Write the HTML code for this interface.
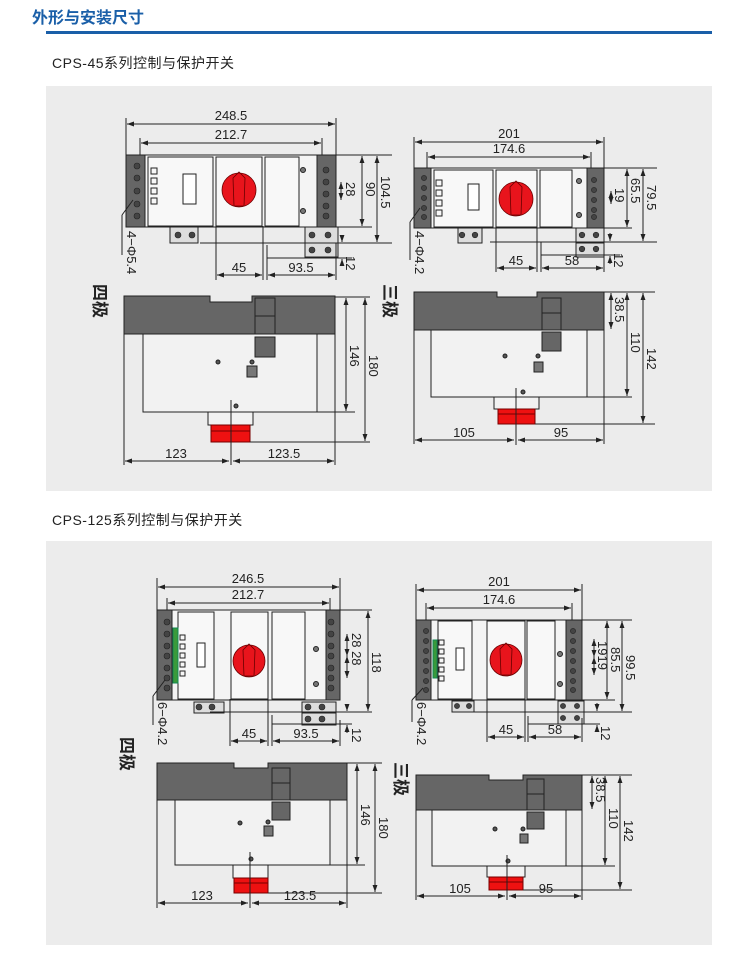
<!DOCTYPE html>
<html><head><meta charset="utf-8"><style>
html,body{margin:0;padding:0;background:#fff;width:750px;height:963px;overflow:hidden}
svg{display:block}
text{font-family:"Liberation Sans","Noto Sans CJK SC",sans-serif;fill:#222}
</style></head><body>
<svg width="750" height="963" viewBox="0 0 750 963" xmlns="http://www.w3.org/2000/svg">
<defs>
<marker id="a" viewBox="0 0 10 10" refX="10" refY="5" markerWidth="7" markerHeight="7" orient="auto-start-reverse"><path d="M0,1.5 L10,5 L0,8.5z" fill="#222"/></marker>
</defs>
<text x="32" y="23" font-size="16" font-weight="bold" style="fill:#1a5fa8">外形与安装尺寸</text>
<rect x="46" y="31" width="666" height="3" fill="#1a5fa8"/>
<text x="52" y="68" font-size="14" letter-spacing="0.5">CPS-45系列控制与保护开关</text>
<rect x="46" y="86" width="666" height="405" fill="#ececec"/>
<text x="52" y="525" font-size="14" letter-spacing="0.5">CPS-125系列控制与保护开关</text>
<rect x="46" y="541" width="666" height="404" fill="#ececec"/>

<g stroke="#222" stroke-width="1" fill="none">
<!-- ===== Panel1 left front ===== -->
<line x1="126" y1="118" x2="126" y2="155"/><line x1="336" y1="118" x2="336" y2="155"/>
<line x1="127" y1="124" x2="335" y2="124" marker-start="url(#a)" marker-end="url(#a)"/>
<line x1="140" y1="138" x2="140" y2="155"/><line x1="322" y1="138" x2="322" y2="155"/>
<line x1="141" y1="143" x2="321" y2="143" marker-start="url(#a)" marker-end="url(#a)"/>
<rect x="126" y="155" width="210" height="72" fill="#f4f4f4"/>
<rect x="126" y="155" width="19" height="72" fill="#666"/>
<rect x="317" y="155" width="19" height="72" fill="#666"/>
<rect x="148" y="157" width="65" height="69" fill="#f8f8f8"/>
<rect x="216" y="157" width="46" height="69" fill="#f8f8f8"/>
<rect x="265" y="157" width="34" height="69" fill="#f8f8f8"/>
<rect x="183" y="174" width="13" height="30" fill="#fff"/>
<rect x="151" y="168" width="6" height="6"/><rect x="151" y="178" width="6" height="6"/><rect x="151" y="188" width="6" height="6"/><rect x="151" y="198" width="6" height="6"/>
<circle cx="303" cy="170" r="2.5" fill="#777"/><circle cx="303" cy="211" r="2.5" fill="#777"/>
<rect x="170" y="227" width="28" height="16" fill="#ddd"/>
<rect x="305" y="227" width="33" height="16" fill="#ddd"/><rect x="305" y="243" width="33" height="14" fill="#ddd"/>
<line x1="216" y1="226" x2="216" y2="280"/><line x1="263" y1="226" x2="263" y2="280"/><line x1="267" y1="245" x2="267" y2="280"/>
<line x1="217" y1="275" x2="262" y2="275" marker-start="url(#a)" marker-end="url(#a)"/>
<line x1="268" y1="275" x2="335" y2="275" marker-start="url(#a)" marker-end="url(#a)"/>
<line x1="336" y1="243" x2="336" y2="280"/>
<line x1="336" y1="155" x2="392" y2="155"/><line x1="330" y1="227" x2="372" y2="227"/><line x1="200" y1="243" x2="392" y2="243"/><line x1="267" y1="258" x2="352" y2="258"/>
<line x1="341" y1="182" x2="341" y2="200" marker-start="url(#a)" marker-end="url(#a)"/>
<line x1="362" y1="156" x2="362" y2="226" marker-start="url(#a)" marker-end="url(#a)"/>
<line x1="377" y1="156" x2="377" y2="242" marker-start="url(#a)" marker-end="url(#a)"/>
<line x1="342" y1="235" x2="342" y2="242" marker-end="url(#a)"/><line x1="342" y1="266" x2="342" y2="259" marker-end="url(#a)"/>
<line x1="133" y1="200" x2="122" y2="215"/><line x1="122" y1="215" x2="122" y2="255"/>

<!-- Panel1 left side -->
<path d="M124,296 H210 V302 H252 V296 H335 V334 H124Z" fill="#666"/>
<line x1="124" y1="334" x2="124" y2="465"/><line x1="335" y1="334" x2="335" y2="465"/>
<rect x="143" y="334" width="174" height="78" fill="#f2f2f2"/>
<rect x="255" y="298" width="20" height="36" fill="#666"/><line x1="255" y1="316" x2="275" y2="316"/>
<rect x="255" y="337" width="20" height="20" fill="#666"/>
<rect x="247" y="366" width="10" height="11" fill="#777"/>
<circle cx="218" cy="362" r="2" fill="#555"/><circle cx="252" cy="362" r="2" fill="#555"/><circle cx="236" cy="406" r="2" fill="#555"/>
<rect x="208" y="412" width="45" height="13" fill="#f2f2f2"/>
<rect x="211" y="425" width="39" height="17" fill="#e11" stroke="#700"/><line x1="211" y1="431" x2="250" y2="431" stroke="#700"/>
<line x1="231" y1="400" x2="231" y2="465"/>
<line x1="335" y1="297" x2="370" y2="297"/><line x1="317" y1="412" x2="355" y2="412"/><line x1="250" y1="442" x2="370" y2="442"/>
<line x1="346" y1="298" x2="346" y2="411" marker-start="url(#a)" marker-end="url(#a)"/>
<line x1="365" y1="298" x2="365" y2="441" marker-start="url(#a)" marker-end="url(#a)"/>
<line x1="125" y1="461" x2="229" y2="461" marker-start="url(#a)" marker-end="url(#a)"/>
<line x1="233" y1="461" x2="334" y2="461" marker-start="url(#a)" marker-end="url(#a)"/>

<!-- ===== Panel1 right front ===== -->
<line x1="414" y1="137" x2="414" y2="168"/><line x1="604" y1="137" x2="604" y2="168"/>
<line x1="415" y1="142" x2="603" y2="142" marker-start="url(#a)" marker-end="url(#a)"/>
<line x1="427" y1="152" x2="427" y2="168"/><line x1="591" y1="152" x2="591" y2="168"/>
<line x1="428" y1="157" x2="590" y2="157" marker-start="url(#a)" marker-end="url(#a)"/>
<rect x="414" y="168" width="190" height="60" fill="#f4f4f4"/>
<rect x="414" y="168" width="17" height="60" fill="#666"/>
<rect x="587" y="168" width="17" height="60" fill="#666"/>
<rect x="434" y="170" width="59" height="57" fill="#f8f8f8"/>
<rect x="496" y="170" width="41" height="57" fill="#f8f8f8"/>
<rect x="540" y="170" width="32" height="57" fill="#f8f8f8"/>
<rect x="468" y="184" width="11" height="26" fill="#fff"/>
<rect x="436" y="180" width="6" height="6"/><rect x="436" y="190" width="6" height="6"/><rect x="436" y="200" width="6" height="6"/><rect x="436" y="210" width="6" height="6"/>
<circle cx="579" cy="181" r="2.5" fill="#777"/><circle cx="579" cy="215" r="2.5" fill="#777"/>
<rect x="458" y="228" width="24" height="15" fill="#ddd"/>
<rect x="576" y="228" width="28" height="15" fill="#ddd"/><rect x="576" y="243" width="28" height="14" fill="#ddd"/>
<line x1="496" y1="227" x2="496" y2="272"/><line x1="537" y1="227" x2="537" y2="272"/><line x1="541" y1="242" x2="541" y2="272"/>
<line x1="497" y1="268" x2="536" y2="268" marker-start="url(#a)" marker-end="url(#a)"/>
<line x1="542" y1="268" x2="603" y2="268" marker-start="url(#a)" marker-end="url(#a)"/>
<line x1="604" y1="243" x2="604" y2="272"/>
<line x1="604" y1="168" x2="657" y2="168"/><line x1="600" y1="228" x2="632" y2="228"/><line x1="490" y1="242" x2="657" y2="242"/><line x1="541" y1="255" x2="620" y2="255"/>
<line x1="611" y1="191" x2="611" y2="204" marker-start="url(#a)" marker-end="url(#a)"/>
<line x1="627" y1="169" x2="627" y2="227" marker-start="url(#a)" marker-end="url(#a)"/>
<line x1="643" y1="169" x2="643" y2="241" marker-start="url(#a)" marker-end="url(#a)"/>
<line x1="610" y1="233" x2="610" y2="241" marker-end="url(#a)"/><line x1="610" y1="264" x2="610" y2="256" marker-end="url(#a)"/>
<line x1="420" y1="208" x2="410" y2="222"/><line x1="410" y1="222" x2="410" y2="260"/>

<!-- Panel1 right side -->
<path d="M414,292 H497 V297 H537 V292 H604 V330 H414Z" fill="#666"/>
<line x1="414" y1="330" x2="414" y2="444"/><line x1="604" y1="330" x2="604" y2="444"/>
<rect x="431" y="330" width="156" height="67" fill="#f2f2f2"/>
<rect x="542" y="298" width="19" height="32" fill="#666"/><line x1="542" y1="313" x2="561" y2="313"/>
<rect x="542" y="332" width="19" height="19" fill="#666"/>
<rect x="534" y="362" width="9" height="10" fill="#777"/>
<circle cx="505" cy="356" r="2" fill="#555"/><circle cx="538" cy="356" r="2" fill="#555"/><circle cx="523" cy="392" r="2" fill="#555"/>
<rect x="494" y="397" width="45" height="12" fill="#f2f2f2"/>
<rect x="498" y="409" width="37" height="15" fill="#e11" stroke="#700"/><line x1="498" y1="414" x2="535" y2="414" stroke="#700"/>
<line x1="516" y1="388" x2="516" y2="445"/>
<line x1="604" y1="292" x2="655" y2="292"/><line x1="587" y1="397" x2="632" y2="397"/><line x1="535" y1="424" x2="655" y2="424"/>
<line x1="611" y1="293" x2="611" y2="329" marker-start="url(#a)" marker-end="url(#a)"/>
<line x1="627" y1="293" x2="627" y2="396" marker-start="url(#a)" marker-end="url(#a)"/>
<line x1="643" y1="293" x2="643" y2="423" marker-start="url(#a)" marker-end="url(#a)"/>
<line x1="415" y1="440" x2="514" y2="440" marker-start="url(#a)" marker-end="url(#a)"/>
<line x1="518" y1="440" x2="603" y2="440" marker-start="url(#a)" marker-end="url(#a)"/>

<!-- ===== Panel2 left front ===== -->
<line x1="157" y1="578" x2="157" y2="610"/><line x1="340" y1="578" x2="340" y2="610"/>
<line x1="158" y1="587" x2="339" y2="587" marker-start="url(#a)" marker-end="url(#a)"/>
<line x1="167" y1="598" x2="167" y2="610"/><line x1="330" y1="598" x2="330" y2="610"/>
<line x1="168" y1="603" x2="329" y2="603" marker-start="url(#a)" marker-end="url(#a)"/>
<rect x="157" y="610" width="183" height="90" fill="#f4f4f4"/>
<rect x="157" y="610" width="15" height="90" fill="#666"/>
<rect x="326" y="610" width="14" height="90" fill="#666"/>
<rect x="178" y="612" width="36" height="87" fill="#f8f8f8"/>
<rect x="231" y="612" width="37" height="87" fill="#f8f8f8"/>
<rect x="272" y="612" width="33" height="87" fill="#f8f8f8"/>
<rect x="173" y="628" width="5" height="55" fill="#3a9a3a" stroke="#185"/>
<rect x="180" y="635" width="5" height="5"/><rect x="180" y="644" width="5" height="5"/><rect x="180" y="653" width="5" height="5"/><rect x="180" y="662" width="5" height="5"/><rect x="180" y="671" width="5" height="5"/>
<rect x="197" y="643" width="8" height="24" fill="#fff"/>
<circle cx="316" cy="649" r="2.5" fill="#777"/><circle cx="316" cy="684" r="2.5" fill="#777"/>
<rect x="194" y="702" width="30" height="11" fill="#ddd"/>
<rect x="302" y="702" width="34" height="11" fill="#ddd"/><rect x="302" y="713" width="34" height="12" fill="#ddd"/>
<line x1="230" y1="699" x2="230" y2="746"/><line x1="268" y1="699" x2="268" y2="746"/><line x1="272" y1="715" x2="272" y2="746"/>
<line x1="231" y1="741" x2="267" y2="741" marker-start="url(#a)" marker-end="url(#a)"/>
<line x1="273" y1="741" x2="339" y2="741" marker-start="url(#a)" marker-end="url(#a)"/>
<line x1="340" y1="720" x2="340" y2="746"/>
<line x1="335" y1="610" x2="372" y2="610"/><line x1="210" y1="712" x2="372" y2="712"/><line x1="272" y1="724" x2="352" y2="724"/>
<line x1="347" y1="634" x2="347" y2="656" marker-start="url(#a)" marker-end="url(#a)"/>
<line x1="347" y1="656" x2="347" y2="678" marker-start="url(#a)" marker-end="url(#a)"/>
<line x1="368" y1="611" x2="368" y2="711" marker-start="url(#a)" marker-end="url(#a)"/>
<line x1="347" y1="704" x2="347" y2="711" marker-end="url(#a)"/><line x1="347" y1="733" x2="347" y2="725" marker-end="url(#a)"/>
<line x1="165" y1="680" x2="153" y2="696"/><line x1="153" y1="696" x2="153" y2="725"/>

<!-- Panel2 left side -->
<path d="M157,763 H234 V768 H268 V763 H347 V800 H157Z" fill="#666"/>
<line x1="157" y1="800" x2="157" y2="908"/><line x1="347" y1="800" x2="347" y2="908"/>
<rect x="175" y="800" width="155" height="65" fill="#f2f2f2"/>
<rect x="272" y="768" width="18" height="32" fill="#666"/><line x1="272" y1="783" x2="290" y2="783"/>
<rect x="272" y="802" width="18" height="18" fill="#666"/>
<rect x="264" y="826" width="9" height="10" fill="#777"/>
<circle cx="240" cy="823" r="2" fill="#555"/><circle cx="268" cy="822" r="2" fill="#555"/><circle cx="251" cy="859" r="2" fill="#555"/>
<rect x="233" y="865" width="35" height="13" fill="#f2f2f2"/>
<rect x="234" y="878" width="34" height="15" fill="#e11" stroke="#700"/><line x1="234" y1="883" x2="268" y2="883" stroke="#700"/>
<line x1="250" y1="852" x2="250" y2="908"/>
<line x1="347" y1="763" x2="382" y2="763"/><line x1="330" y1="865" x2="365" y2="865"/><line x1="268" y1="893" x2="382" y2="893"/>
<line x1="357" y1="764" x2="357" y2="864" marker-start="url(#a)" marker-end="url(#a)"/>
<line x1="375" y1="764" x2="375" y2="892" marker-start="url(#a)" marker-end="url(#a)"/>
<line x1="158" y1="903" x2="248" y2="903" marker-start="url(#a)" marker-end="url(#a)"/>
<line x1="252" y1="903" x2="346" y2="903" marker-start="url(#a)" marker-end="url(#a)"/>

<!-- ===== Panel2 right front ===== -->
<line x1="416" y1="584" x2="416" y2="620"/><line x1="582" y1="584" x2="582" y2="620"/>
<line x1="417" y1="590" x2="581" y2="590" marker-start="url(#a)" marker-end="url(#a)"/>
<line x1="426" y1="603" x2="426" y2="620"/><line x1="572" y1="603" x2="572" y2="620"/>
<line x1="427" y1="608" x2="571" y2="608" marker-start="url(#a)" marker-end="url(#a)"/>
<rect x="416" y="620" width="166" height="80" fill="#f4f4f4"/>
<rect x="416" y="620" width="15" height="80" fill="#666"/>
<rect x="566" y="620" width="16" height="80" fill="#666"/>
<rect x="438" y="621" width="34" height="78" fill="#f8f8f8"/>
<rect x="487" y="621" width="38" height="78" fill="#f8f8f8"/>
<rect x="527" y="621" width="28" height="78" fill="#f8f8f8"/>
<rect x="433" y="640" width="4" height="38" fill="#3a9a3a" stroke="#185"/>
<rect x="439" y="640" width="5" height="5"/><rect x="439" y="649" width="5" height="5"/><rect x="439" y="658" width="5" height="5"/><rect x="439" y="667" width="5" height="5"/><rect x="439" y="676" width="5" height="5"/>
<rect x="456" y="648" width="8" height="22" fill="#fff"/>
<circle cx="560" cy="654" r="2.5" fill="#777"/><circle cx="560" cy="684" r="2.5" fill="#777"/>
<rect x="452" y="701" width="22" height="11" fill="#ddd"/>
<rect x="558" y="701" width="26" height="11" fill="#ddd"/><rect x="558" y="712" width="26" height="12" fill="#ddd"/>
<line x1="487" y1="699" x2="487" y2="742"/><line x1="525" y1="699" x2="525" y2="742"/><line x1="528" y1="716" x2="528" y2="742"/>
<line x1="488" y1="737" x2="524" y2="737" marker-start="url(#a)" marker-end="url(#a)"/>
<line x1="529" y1="737" x2="581" y2="737" marker-start="url(#a)" marker-end="url(#a)"/>
<line x1="582" y1="718" x2="582" y2="742"/>
<line x1="582" y1="620" x2="632" y2="620"/><line x1="560" y1="700" x2="615" y2="700"/><line x1="452" y1="712" x2="632" y2="712"/><line x1="528" y1="724" x2="600" y2="724"/>
<line x1="594" y1="639" x2="594" y2="657" marker-start="url(#a)" marker-end="url(#a)"/>
<line x1="594" y1="657" x2="594" y2="675" marker-start="url(#a)" marker-end="url(#a)"/>
<line x1="607" y1="621" x2="607" y2="699" marker-start="url(#a)" marker-end="url(#a)"/>
<line x1="622" y1="621" x2="622" y2="711" marker-start="url(#a)" marker-end="url(#a)"/>
<line x1="597" y1="703" x2="597" y2="711" marker-end="url(#a)"/><line x1="597" y1="732" x2="597" y2="725" marker-end="url(#a)"/>
<line x1="423" y1="688" x2="412" y2="700"/><line x1="412" y1="700" x2="412" y2="722"/>

<!-- Panel2 right side -->
<path d="M416,775 H489 V780 H523 V775 H582 V810 H416Z" fill="#666"/>
<line x1="416" y1="810" x2="416" y2="900"/><line x1="582" y1="810" x2="582" y2="900"/>
<rect x="432" y="810" width="134" height="56" fill="#f2f2f2"/>
<rect x="527" y="779" width="17" height="31" fill="#666"/><line x1="527" y1="794" x2="544" y2="794"/>
<rect x="527" y="812" width="17" height="17" fill="#666"/>
<rect x="520" y="834" width="8" height="9" fill="#777"/>
<circle cx="495" cy="829" r="2" fill="#555"/><circle cx="523" cy="829" r="2" fill="#555"/><circle cx="508" cy="861" r="2" fill="#555"/>
<rect x="487" y="866" width="38" height="11" fill="#f2f2f2"/>
<rect x="489" y="877" width="34" height="13" fill="#e11" stroke="#700"/><line x1="489" y1="882" x2="523" y2="882" stroke="#700"/>
<line x1="507" y1="855" x2="507" y2="900"/>
<line x1="582" y1="775" x2="632" y2="775"/><line x1="566" y1="866" x2="615" y2="866"/><line x1="523" y1="890" x2="632" y2="890"/>
<line x1="592" y1="776" x2="592" y2="809" marker-start="url(#a)" marker-end="url(#a)"/>
<line x1="605" y1="776" x2="605" y2="865" marker-start="url(#a)" marker-end="url(#a)"/>
<line x1="620" y1="776" x2="620" y2="889" marker-start="url(#a)" marker-end="url(#a)"/>
<line x1="417" y1="896" x2="505" y2="896" marker-start="url(#a)" marker-end="url(#a)"/>
<line x1="509" y1="896" x2="581" y2="896" marker-start="url(#a)" marker-end="url(#a)"/>
</g>

<!-- terminal screws -->
<g fill="#444" stroke="#222" stroke-width="0.6">
<circle cx="137" cy="166" r="3"/><circle cx="137" cy="178" r="3"/><circle cx="137" cy="191" r="3"/><circle cx="137" cy="204" r="3"/><circle cx="137" cy="216" r="3"/>
<circle cx="326" cy="170" r="3"/><circle cx="326" cy="182" r="3"/><circle cx="326" cy="194" r="3"/><circle cx="326" cy="206" r="3"/><circle cx="326" cy="216" r="3"/>
<circle cx="178" cy="235" r="3"/><circle cx="192" cy="235" r="3"/><circle cx="312" cy="235" r="3"/><circle cx="328" cy="235" r="3"/><circle cx="312" cy="250" r="3"/><circle cx="328" cy="250" r="3"/>
<circle cx="424" cy="178" r="2.6"/><circle cx="424" cy="188" r="2.6"/><circle cx="424" cy="198" r="2.6"/><circle cx="424" cy="208" r="2.6"/><circle cx="424" cy="217" r="2.6"/>
<circle cx="594" cy="180" r="2.6"/><circle cx="594" cy="190" r="2.6"/><circle cx="594" cy="200" r="2.6"/><circle cx="594" cy="210" r="2.6"/><circle cx="594" cy="217" r="2.6"/>
<circle cx="462" cy="235" r="2.8"/><circle cx="475" cy="235" r="2.8"/><circle cx="582" cy="235" r="2.8"/><circle cx="596" cy="235" r="2.8"/><circle cx="582" cy="249" r="2.8"/><circle cx="596" cy="249" r="2.8"/>
<circle cx="167" cy="622" r="3"/><circle cx="167" cy="634" r="3"/><circle cx="167" cy="646" r="3"/><circle cx="167" cy="656" r="3"/><circle cx="167" cy="668" r="3"/><circle cx="167" cy="678" r="3"/><circle cx="167" cy="688" r="3"/>
<circle cx="331" cy="622" r="3"/><circle cx="331" cy="634" r="3"/><circle cx="331" cy="646" r="3"/><circle cx="331" cy="656" r="3"/><circle cx="331" cy="668" r="3"/><circle cx="331" cy="678" r="3"/><circle cx="331" cy="688" r="3"/>
<circle cx="199" cy="707" r="3"/><circle cx="212" cy="707" r="3"/><circle cx="308" cy="707" r="3"/><circle cx="322" cy="707" r="3"/><circle cx="308" cy="719" r="3"/><circle cx="322" cy="719" r="3"/>
<circle cx="426" cy="631" r="2.6"/><circle cx="426" cy="641" r="2.6"/><circle cx="426" cy="651" r="2.6"/><circle cx="426" cy="661" r="2.6"/><circle cx="426" cy="671" r="2.6"/><circle cx="426" cy="681" r="2.6"/><circle cx="426" cy="690" r="2.6"/>
<circle cx="573" cy="631" r="2.6"/><circle cx="573" cy="641" r="2.6"/><circle cx="573" cy="651" r="2.6"/><circle cx="573" cy="661" r="2.6"/><circle cx="573" cy="671" r="2.6"/><circle cx="573" cy="681" r="2.6"/><circle cx="573" cy="690" r="2.6"/>
<circle cx="457" cy="706" r="2.6"/><circle cx="469" cy="706" r="2.6"/><circle cx="563" cy="706" r="2.6"/><circle cx="577" cy="706" r="2.6"/><circle cx="563" cy="718" r="2.6"/><circle cx="577" cy="718" r="2.6"/>
</g>

<!-- knobs -->
<g fill="#e8141c" stroke="#6a0000" stroke-width="0.8">
<circle cx="239" cy="190" r="17"/><path d="M233,178 L239,172 L245,178 L244,206 L234,206Z" fill="none"/>
<circle cx="516" cy="199" r="17"/><path d="M510,187 L516,181 L522,187 L521,215 L511,215Z" fill="none"/>
<circle cx="249" cy="661" r="16"/><path d="M243,650 L249,644 L255,650 L254,676 L244,676Z" fill="none"/>
<circle cx="506" cy="660" r="16"/><path d="M500,649 L506,643 L512,649 L511,675 L501,675Z" fill="none"/>
</g>

<!-- labels -->
<g font-size="13" text-anchor="middle">
<text x="231" y="120">248.5</text><text x="231" y="139">212.7</text>
<text x="239" y="272">45</text><text x="301" y="272">93.5</text>
<text x="176" y="458">123</text><text x="284" y="458">123.5</text>
<text x="509" y="138">201</text><text x="509" y="153">174.6</text>
<text x="516" y="265">45</text><text x="572" y="265">58</text>
<text x="464" y="437">105</text><text x="561" y="437">95</text>
<text x="248" y="583">246.5</text><text x="248" y="599">212.7</text>
<text x="249" y="738">45</text><text x="306" y="738">93.5</text>
<text x="202" y="900">123</text><text x="300" y="900">123.5</text>
<text x="499" y="586">201</text><text x="499" y="604">174.6</text>
<text x="506" y="734">45</text><text x="555" y="734">58</text>
<text x="460" y="893">105</text><text x="546" y="893">95</text>
</g>
<g font-size="13">
<text transform="translate(346,182) rotate(90)">28</text>
<text transform="translate(366,182) rotate(90)">90</text>
<text transform="translate(381,176) rotate(90)">104.5</text>
<text transform="translate(346,256) rotate(90)">12</text>
<text transform="translate(350,345) rotate(90)">146</text>
<text transform="translate(369,355) rotate(90)">180</text>
<text transform="translate(127,231) rotate(90)">4−Φ5.4</text>
<text transform="translate(615,188) rotate(90)">19</text>
<text transform="translate(631,178) rotate(90)">65.5</text>
<text transform="translate(647,185) rotate(90)">79.5</text>
<text transform="translate(614,253) rotate(90)">12</text>
<text transform="translate(615,297) rotate(90)">38.5</text>
<text transform="translate(631,332) rotate(90)">110</text>
<text transform="translate(647,348) rotate(90)">142</text>
<text transform="translate(415,231) rotate(90)">4−Φ4.2</text>
<text transform="translate(352,633) rotate(90)">28 28</text>
<text transform="translate(372,652) rotate(90)">118</text>
<text transform="translate(352,728) rotate(90)">12</text>
<text transform="translate(361,804) rotate(90)">146</text>
<text transform="translate(379,817) rotate(90)">180</text>
<text transform="translate(158,702) rotate(90)">6−Φ4.2</text>
<text transform="translate(598,641) rotate(90)">1919</text>
<text transform="translate(611,647) rotate(90)">85.5</text>
<text transform="translate(626,655) rotate(90)">99.5</text>
<text transform="translate(601,726) rotate(90)">12</text>
<text transform="translate(596,777) rotate(90)">38.5</text>
<text transform="translate(609,808) rotate(90)">110</text>
<text transform="translate(624,820) rotate(90)">142</text>
<text transform="translate(417,702) rotate(90)">6−Φ4.2</text>
</g>
<g font-size="17" font-weight="bold">
<text transform="translate(94,284) rotate(90)">四极</text>
<text transform="translate(384,284) rotate(90)">三极</text>
<text transform="translate(121,737) rotate(90)">四极</text>
<text transform="translate(395,762) rotate(90)">三极</text>
</g>
</svg>
</body></html>
